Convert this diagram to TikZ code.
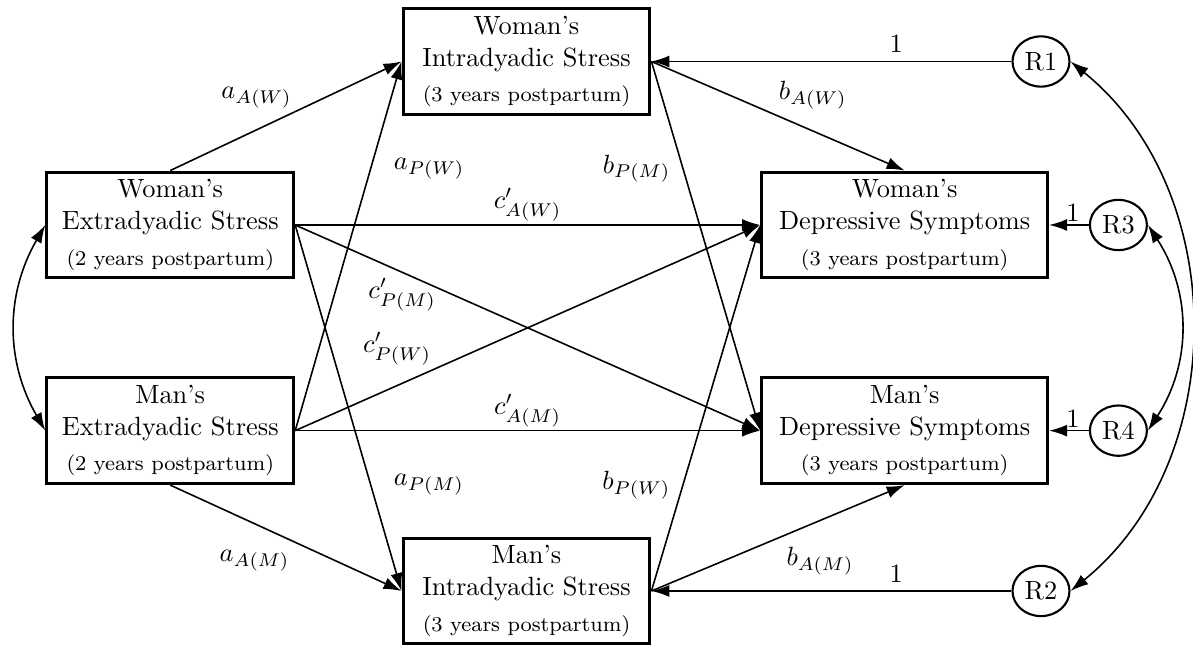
\documentclass[tikz,border=0pt]{standalone}
\usepackage{tikz}
\usetikzlibrary{positioning, arrows.meta, shapes.geometric}
\tikzstyle{obs}=[%
      rectangle, draw=black, very thick, fill=none,
      minimum height=1.41cm, inner sep=0pt, align=center
]
\tikzstyle{res}=[%
      ellipse, draw=black, thick, fill=none,
      minimum width=0.76cm, minimum height=0.67cm, inner sep=0pt
]
\tikzstyle{lbl}=[inner sep=1pt]
\newcommand{\postpartum}[1]{\\[1.5pt]{\footnotesize (#1 years postpartum)}}

\begin{document}
\begin{tikzpicture}[
    >={Latex[length=2.4mm,width=1.6mm]},
    ->, semithick
  ]
    \useasboundingbox (0,0) rectangle (15.907,8.6);
    \node[obs, minimum width=3.29cm] (WE) at (2.27,5.6)    {Woman's\\Extradyadic Stress\postpartum{2}};
    \node[obs, minimum width=3.29cm] (ME) [below = 1.29cm of WE] {Man's\\Extradyadic Stress\postpartum{2}};
    \node[obs, minimum width=3.81cm] (WD) [right = 6.2cm of WE]  {Woman's\\Depressive Symptoms\postpartum{3}};
    \node[obs, minimum width=3.81cm] (MD) [right = 6.2cm of ME]  {Man's\\Depressive Symptoms\postpartum{3}};
    \node[obs, minimum width=3.29cm] (WI) at (7.02,7.78)   {Woman's\\Intradyadic Stress\postpartum{3}};
    \node[obs, minimum width=3.29cm] (MI) at (7.02,0.72)   {Man's\\Intradyadic Stress\postpartum{3}};
    \node[res] (R1) [right = 4.8cm of WI]  {R1};
    \node[res] (R2) [right = 4.8cm of MI]  {R2};
    \node[res] (R3) [right = 0.53cm of WD] {R3};
    \node[res] (R4) [right = 0.53cm of MD] {R4};

    \path (WE.north) edge node[lbl, pos=.54, anchor=south east] {$a_{A(W)}$} (WI.west)
          (ME.east)  edge node[lbl, pos=.71, anchor=west, xshift=7.5pt] {$a_{P(W)}$} (WI.west)
          (WE.east)  edge node[lbl, pos=.71, anchor=west, xshift=7.5pt] {$a_{P(M)}$} (MI.west)
          (ME.south) edge node[lbl, pos=.53, anchor=north east, yshift=-2pt] {$a_{A(M)}$} (MI.west)
          (WI.east)  edge node[lbl, pos=.49, anchor=south west, yshift=1pt] {$b_{A(W)}$} (WD.north)
          (WI.east)  edge node[lbl, pos=.29, anchor=east, xshift=-3.5pt] {$b_{P(M)}$} (MD.west)
          (MI.east)  edge node[lbl, pos=.29, anchor=east, xshift=-3.5pt] {$b_{P(W)}$} (WD.west)
          (MI.east)  edge node[lbl, pos=.52, anchor=north west, yshift=-3pt] {$b_{A(M)}$} (MD.south)
          (WE.east)  edge node[lbl, pos=.5, above] {$c'_{A(W)}$} (WD.west)
          (WE.east)  edge node[lbl, pos=.23, anchor=north, yshift=-1pt] {$c'_{P(M)}$} (MD.west)
          (ME.east)  edge node[lbl, pos=.3, anchor=south east] {$c'_{P(W)}$} (WD.west)
          (ME.east)  edge node[lbl, pos=.5, above] {$c'_{A(M)}$} (MD.west)
          (R1.west)  edge node[lbl, pos=.32, above, yshift=2pt] {1} (WI.east)
          (R2.west)  edge node[lbl, pos=.32, above, yshift=2pt] {1} (MI.east)
          (R3.west)  edge node[lbl, pos=.4, above] {1} (WD.east)
          (R4.west)  edge node[lbl, pos=.4, above] {1} (MD.east)
          (WE.west)  edge[<->, bend right=30] (ME.west)
          (R3.east)  edge[<->, bend left=33] (R4.east)
          (R1.east)  edge[<->, bend left=51] (R2.east)
    ;

  \end{tikzpicture}
\end{document}
